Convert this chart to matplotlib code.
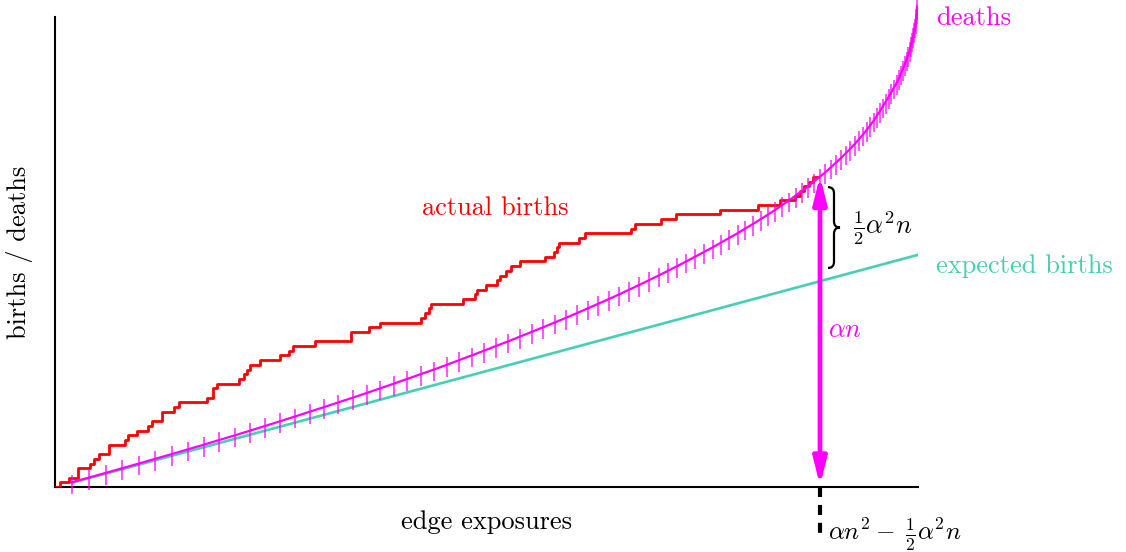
import numpy as np
import matplotlib.pyplot as plt
from matplotlib.path import Path
from matplotlib.patches import PathPatch, FancyArrowPatch

plt.rcParams['font.family'] = 'serif'
plt.rcParams['font.serif'] = ['cmr10']
plt.rcParams['mathtext.fontset'] = 'cm'
plt.rcParams['axes.unicode_minus'] = False

RED = '#ff0000'
MAG = '#ff00ff'
TEAL = '#45d0b4'

# exposure count at each birth (repeated value = two births at once)
births = [5, 13.5, 23, 23, 35, 38.5, 44, 53.5, 53.5, 70, 73, 82, 93, 96.5,
          106.5, 106.5, 119, 123.5, 152, 157.5, 157.5, 161.5, 183.5, 188.5,
          191.5, 195, 205, 225, 233.5, 237.5, 260, 296, 296, 313.5, 325,
          365.5, 370, 373.5, 376, 407.5, 419.5, 422, 431, 441.5, 444.5, 451,
          456, 464.5, 489.5, 498.5, 501.5, 504, 523.5, 530, 576, 580, 605.5,
          621, 664.5, 702.5, 725, 740, 744.5, 748.5, 753.5, 757.5]
births_end = 763

# exposure count at each death (deaths 1, 2, 3, ...)
deaths = [16.7, 34, 50.7, 67.3, 84, 100.3, 116.7, 132.7, 148.7, 164.3,
          180, 195.3, 210.3, 225.3, 240, 254.5, 269, 283.3, 297.7, 311.7,
          325.3, 339, 352.3, 365.7, 379, 391.8, 404.3, 416.7, 429, 441,
          453.3, 465, 476.7, 488.3, 499.7, 511, 522, 532.7, 543.3, 554,
          564.3, 574.3, 584.3, 594, 603.7, 613, 622.3, 631.3, 640, 649,
          657.7, 666, 674.3, 682.7, 690.3, 698.3, 705.7, 713.3, 720.3, 727.3,
          734, 740.7, 747, 753.3, 759, 764.8, 770.4, 775.8, 781, 786,
          790.8, 795.4, 799.8, 804, 808, 811.8, 815.4, 818.8, 822, 825,
          827.9, 830.8, 833.6, 836.3, 839, 841.7, 843.9, 846, 848, 849.9,
          851.7, 853.3, 854.8, 856.1, 857.3, 858.4, 859.4, 860.2, 860.9, 861.4,
          861.8, 862]

expected_x = [16.7, 863]
expected_y = [0.9, 49.4]

mark_x = 765      # the marked exposure
mark_top = 66.2   # deaths there
mark_low = 46.6   # expected births there


def brace(ax, x, y0, y1, w, q):
    ym = (y0 + y1) / 2
    xm = x + w / 2
    verts = [(x, y1), (xm, y1), (xm, y1 - q), (xm, ym + q),
             (xm, ym), (x + w, ym), (xm, ym), (xm, ym - q),
             (xm, y0 + q), (xm, y0), (x, y0)]
    codes = [Path.MOVETO, Path.CURVE3, Path.CURVE3, Path.LINETO,
             Path.CURVE3, Path.CURVE3, Path.CURVE3, Path.CURVE3,
             Path.LINETO, Path.CURVE3, Path.CURVE3]
    ax.add_patch(PathPatch(Path(verts, codes), fc='none', ec='black',
                           lw=1.6, clip_on=False, zorder=6))


fig = plt.figure(figsize=(11.26, 5.52), dpi=100)
ax = fig.add_axes([55 / 1126, 65 / 552, 863 / 1126, 470 / 552])
ax.set_xlim(0, 863)
ax.set_ylim(0, 100)

ax.plot(expected_x, expected_y, color=TEAL, lw=1.9, zorder=2)

bx = [0] + births + [births_end]
by = list(range(len(births) + 1)) + [len(births)]
ax.plot(bx, by, drawstyle='steps-post', color=RED, lw=2, zorder=3)

k = np.arange(1, len(deaths) + 1)
ax.plot(deaths, k, color=MAG, lw=1.6, zorder=4, clip_on=False)
ax.vlines(deaths, k - 2.55, k + 1.65, color=MAG, lw=1.1, alpha=0.85,
          zorder=4, clip_on=False)

arr = FancyArrowPatch((mark_x, 0.3), (mark_x, mark_top),
                      arrowstyle='<|-|>,head_length=0.8,head_width=0.2',
                      mutation_scale=20, color=MAG, lw=3.4,
                      shrinkA=0, shrinkB=0, zorder=5, clip_on=False)
ax.add_patch(arr)
ax.plot([mark_x, mark_x], [0, -10.2], color='black', lw=3,
        ls=(0, (2.4, 1.9)), clip_on=False, zorder=6)
brace(ax, mark_x + 8, mark_low, mark_top - 2.4, 12, 1.3)

fs = 19
ax.text(440, 59.4, 'actual births', color=RED, fontsize=fs,
        ha='center', va='center')
ax.text(881, 99.8, 'deaths', color=MAG, fontsize=fs, ha='left', va='center')
ax.text(881, 47.0, 'expected births', color=TEAL, fontsize=fs,
        ha='left', va='center')
ax.text(mark_x + 8, 33.4, r'$\alpha n$', color=MAG, fontsize=fs,
        ha='left', va='center')
ax.text(mark_x + 33, 55.1, r'$\frac{1}{2}\alpha^2 n$', color='black',
        fontsize=fs, ha='left', va='center')
ax.text(mark_x + 8, -10.2, r'$\alpha n^2 -\;\frac{1}{2}\alpha^2 n$',
        color='black', fontsize=18, ha='left', va='center')

ax.set_xlabel('edge exposures', fontsize=fs, labelpad=17)
ax.set_ylabel('births / deaths', fontsize=fs, labelpad=16)
ax.set_xticks([])
ax.set_yticks([])
for s in ['top', 'right']:
    ax.spines[s].set_visible(False)
for s in ['left', 'bottom']:
    ax.spines[s].set_linewidth(1.5)

fig.savefig('out.png', dpi=100)
